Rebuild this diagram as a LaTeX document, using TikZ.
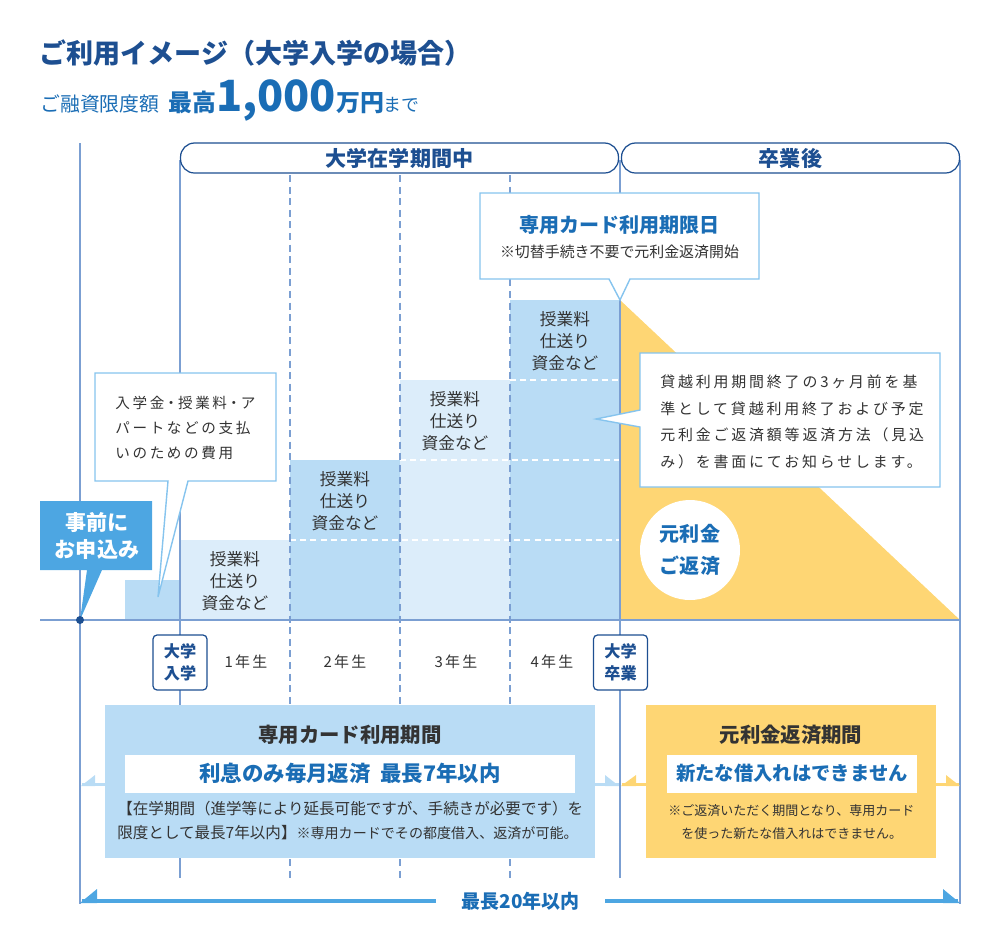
\documentclass[tikz,border=0pt]{standalone}
\usepackage{fontspec}
\setmainfont{Noto Sans CJK JP}
\usetikzlibrary{positioning}
\definecolor{navy}{HTML}{1D4F91}
\definecolor{txtblue}{HTML}{1A6DB5}
\definecolor{axisblue}{HTML}{7B9FD2}
\definecolor{barblue}{HTML}{B9DCF5}
\definecolor{barpale}{HTML}{DCEDFA}
\definecolor{skyblue}{HTML}{4DA6E2}
\definecolor{callblue}{HTML}{86C4EE}
\definecolor{sunny}{HTML}{FED674}
\definecolor{inkgray}{HTML}{333333}
\newcommand\fsz[2]{\fontsize{#1}{#2}\selectfont}
\newcommand\halfdot{\kern0.22em{\addfontfeature{CharacterWidth=AlternateHalf}・}\kern0.22em}
\tikzset{
  axisline/.style={draw=axisblue, line width=0.9pt},
  yeardash/.style={draw=axisblue, line width=0.9pt, dash pattern=on 4pt off 2.6pt},
  whitedash/.style={draw=white, line width=0.7pt, dash pattern=on 3.4pt off 2.4pt},
  headbar/.style={draw=navy, line width=0.7pt, fill=white, rounded corners=0.28cm,
    minimum height=0.6cm, inner sep=0pt, text=navy, font=\fsz{12}{14}\bfseries},
  callout/.style={fill=white, draw=callblue, line width=0.8pt},
  stepnote/.style={text=inkgray, align=center, font=\fsz{9.5}{12.5}},
  marker/.style={draw=navy, line width=0.7pt, fill=white, rounded corners=0.08cm,
    minimum width=1.08cm, minimum height=1.1cm, inner sep=0pt, align=center,
    text=navy, font=\fsz{9.2}{12.5}\bfseries},
  yearlabel/.style={text=inkgray, font=\fsz{8.5}{10}\addfontfeature{LetterSpace=15}},
  periodbox/.style={minimum height=3.06cm, inner sep=0pt},
  innerbox/.style={fill=white, minimum height=0.76cm, inner sep=0pt, text=txtblue},
  periodtitle/.style={text=inkgray, font=\fsz{11.6}{14}\bfseries},
  smallnote/.style={text=inkgray, align=left, inner sep=0pt},
  bandline/.style={line width=1.7pt},
}

\begin{document}
\begin{tikzpicture}[x=0.02cm, y=-0.02cm]
\useasboundingbox (0,0) rectangle (1000,944);
% heading
\node[anchor=west, inner sep=0pt, text=navy, font=\fsz{15.4}{18}\bfseries] (title) at (39,53) {ご利用イメージ（大学入学の場合）};
\node[anchor=base west, inner sep=0pt, text=txtblue] (limit) at (40,111)
  {\fsz{11.3}{12}ご融資限度額\hspace{0.45em}{\bfseries\fsz{13.6}{14}最高{\fsz{24.5}{24}1,000}万円}{\fsz{10.2}{10}まで}};

% bars
\fill[barblue] (125,580) rectangle (180,620);
\fill[barpale] (180,540) rectangle (290,620);
\fill[barblue] (290,460) rectangle (400,620);
\fill[barpale] (400,380) rectangle (510,620);
\fill[barblue] (510,300) rectangle (620,620);
\fill[sunny] (620,300) -- (620,620) -- (960,620) -- cycle;
\draw[whitedash] (290,540) -- (620,540);
\draw[whitedash] (400,460) -- (620,460);
\draw[whitedash] (510,380) -- (620,380);

% time axis
\draw[axisline] (80,143) -- (80,904);
\draw[axisline] (960,160) -- (960,904);
\draw[axisline] (180,160) -- (180,878);
\draw[axisline] (620,160) -- (620,878);
\foreach \xx in {290,400,510}
  \draw[yeardash] (\xx,175) -- (\xx,878);
\draw[axisline] (40,620) -- (960,620);

% period headers
\node[headbar, minimum width=8.76cm] (inschool) at (399.5,158) {大学在学期間中};
\node[headbar, minimum width=6.76cm] (aftergrad) at (790.5,158) {卒業後};

% band lines
\draw[bandline, draw=barblue] (82,784.5) -- (619,784.5);
\fill[barblue] (81,786) -- (95,775) -- (95,786) -- cycle;
\fill[barblue] (619,786) -- (605,775) -- (605,786) -- cycle;
\draw[bandline, draw=sunny] (622,784.5) -- (959,784.5);
\fill[sunny] (621,786) -- (636,775) -- (636,786) -- cycle;
\fill[sunny] (960,786) -- (946,775) -- (946,786) -- cycle;

% card period
\node[periodbox, fill=barblue, minimum width=9.8cm] (cardbox) at (350,781.5) {};
\node[periodtitle] (cardtitle) at (350,735) {専用カード利用期間};
\node[innerbox, minimum width=9cm, font=\fsz{12.2}{14}\bfseries] (cardrule) at (350,773.5) {利息のみ毎月返済\hspace{0.45em}最長7年以内};
\node[smallnote, anchor=west, font=\fsz{8.85}{14.2}] (cardnote) at (117,820.5)
  {【在学期間（進学等により延長可能ですが、手続きが必要です）を\\限度として最長7年以内】{\fsz{8}{14.2}※専用カードでその都度借入、返済が可能。}};

% repayment period
\node[periodbox, fill=sunny, minimum width=5.82cm] (repaybox) at (791,781.5) {};
\node[periodtitle] (repaytitle) at (791,735) {元利金返済期間};
\node[innerbox, minimum width=5cm, font=\fsz{11}{14}\bfseries] (repayrule) at (792,773.5) {新たな借入れはできません};
\node[smallnote, anchor=west, font=\fsz{7.4}{13.4}] (repaynote) at (668,822)
  {※ご返済いただく期間となり、専用カード\\\hspace{1em}を使った新たな借入れはできません。};

% year labels
\node[marker] (entry) at (180,662.5) {大学\\入学};
\node[marker] (grad) at (620.5,662.5) {大学\\卒業};
\node[yearlabel] (y1) at (246,662) {1年生};
\node[yearlabel] (y2) at (345,662) {2年生};
\node[yearlabel] (y3) at (456,662) {3年生};
\node[yearlabel] (y4) at (552,662) {4年生};

% step notes
\node[stepnote] (n1) at (235,581) {授業料\\仕送り\\資金など};
\node[stepnote] (n2) at (345,501) {授業料\\仕送り\\資金など};
\node[stepnote] (n3) at (455,421) {授業料\\仕送り\\資金など};
\node[stepnote] (n4) at (565,341) {授業料\\仕送り\\資金など};

% callouts
\draw[callout] (95,373) -- (276,373) -- (276,481) -- (188,481) -- (158,597) -- (168,481) -- (95,481) -- cycle;
\node[anchor=west, inner sep=0pt, align=left, text=inkgray, font=\fsz{8.3}{14.2}\addfontfeature{LetterSpace=18}] (costs) at (115,428)
  {入学金\halfdot 授業料\halfdot ア\\パートなどの支払\\いのための費用};
\draw[callout] (480,193) -- (759,193) -- (759,279) -- (630,279) -- (620,300) -- (609,279) -- (480,279) -- cycle;
\node[text=txtblue, font=\fsz{11.4}{14}\bfseries] (deadline) at (619.5,225) {専用カード利用期限日};
\node[text=inkgray, font=\fsz{8.5}{10}] (switch) at (619.5,252) {※切替手続き不要で元利金返済開始};
\draw[callout] (640,353) -- (940,353) -- (940,487) -- (640,487) -- (640,427) -- (596,419) -- (640,410) -- cycle;
\node[anchor=west, inner sep=0pt, align=left, text=inkgray, font=\fsz{8.5}{15.2}\addfontfeature{LetterSpace=19}] (notice) at (660,422)
  {貸越利用期間終了の3ヶ月前を基\\準として貸越利用終了および予定\\元利金ご返済額等返済方法（見込\\み）を書面にてお知らせします。};
\fill[skyblue] (40,501) -- (152,501) -- (152,570) -- (102,570) -- (80,620) -- (87,570) -- (40,570) -- cycle;
\node[text=white, align=center, font=\fsz{12}{15.4}\bfseries] (apply) at (97,536) {事前に\\お申込み};
\node[circle, fill=white, minimum size=2cm, inner sep=0pt, align=center, text=txtblue, font=\fsz{11.4}{18.2}\bfseries] (repay) at (690,550) {元利金\\ご返済};

% total span
\draw[line width=2.3pt, draw=skyblue] (82,901) -- (958,901);
\fill[skyblue] (80,903) -- (97,889) -- (97,903) -- cycle;
\fill[skyblue] (960,903) -- (943,889) -- (943,903) -- cycle;
\node[fill=white, minimum width=3.4cm, inner sep=1pt, text=txtblue, font=\fsz{10.8}{12}\bfseries] (span) at (520.5,901) {最長20年以内};
\fill[navy] (80,620) circle[radius=0.08cm];
\end{tikzpicture}
\end{document}
